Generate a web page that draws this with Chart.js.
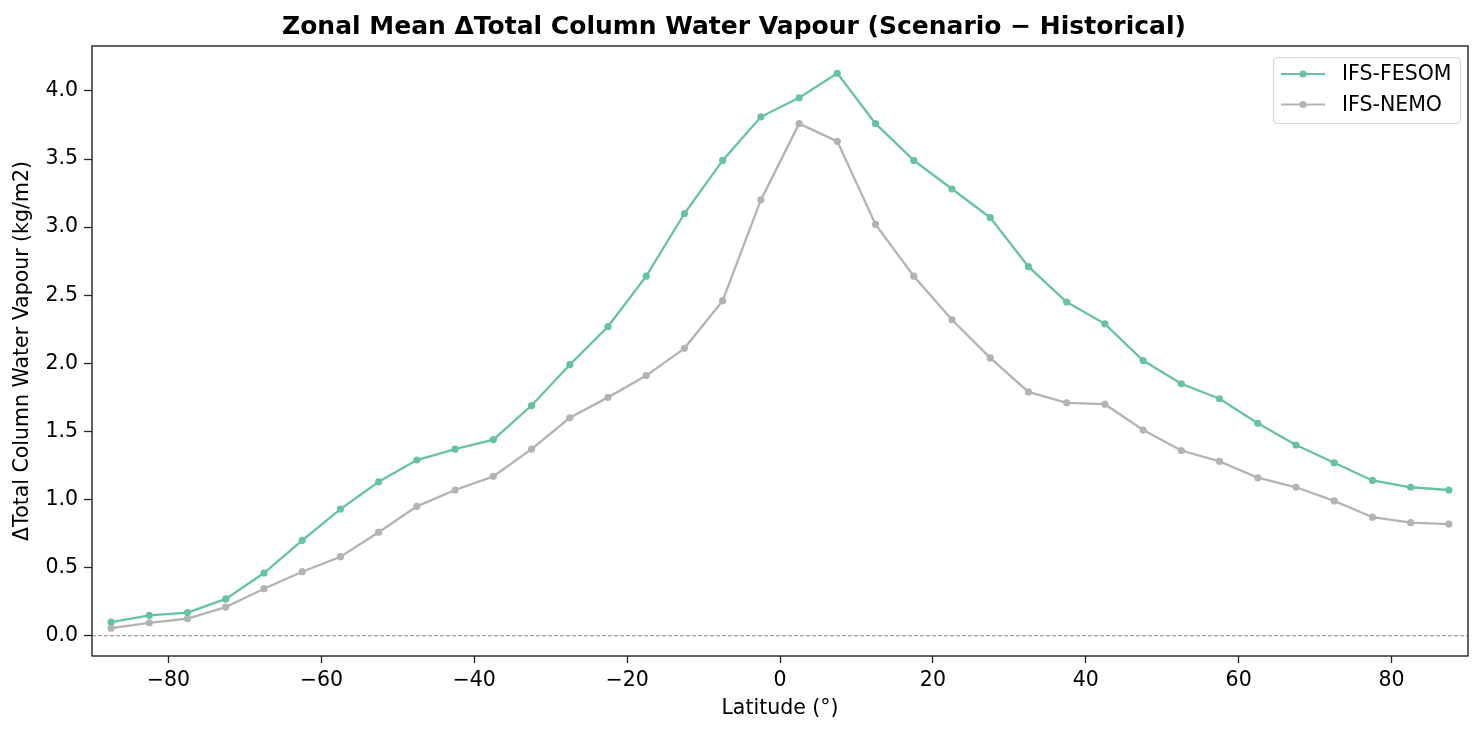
<!DOCTYPE html>
<html>
<head>
<meta charset="utf-8">
<script src="https://cdn.jsdelivr.net/npm/chart.js@4/dist/chart.umd.min.js"></script>
<style>
  html, body { margin: 0; padding: 0; background: #fff; }
  #wrap { width: 1483px; height: 734px; }
</style>
</head>
<body>
<div id="wrap"><canvas id="c"></canvas></div>
<script>
// zonal bands, 5 degree bins
const latitudes = [-87.5, -82.5, -77.5, -72.5, -67.5, -62.5, -57.5, -52.5, -47.5, -42.5,
    -37.5, -32.5, -27.5, -22.5, -17.5, -12.5, -7.5, -2.5, 2.5, 7.5, 12.5, 17.5, 22.5,
    27.5, 32.5, 37.5, 42.5, 47.5, 52.5, 57.5, 62.5, 67.5, 72.5, 77.5, 82.5, 87.5];

const fesom = [0.10, 0.15, 0.17, 0.27, 0.46, 0.70, 0.93, 1.13, 1.29, 1.37,
    1.44, 1.69, 1.99, 2.27, 2.64, 3.10, 3.49, 3.81, 3.95, 4.13, 3.76, 3.49, 3.28,
    3.07, 2.71, 2.45, 2.29, 2.02, 1.85, 1.74, 1.56, 1.40, 1.27, 1.14, 1.09, 1.07];

const nemo = [0.055, 0.095, 0.125, 0.21, 0.345, 0.47, 0.58, 0.76, 0.95, 1.07,
    1.17, 1.37, 1.60, 1.75, 1.91, 2.11, 2.46, 3.20, 3.76, 3.63, 3.02, 2.64, 2.32,
    2.04, 1.79, 1.71, 1.70, 1.51, 1.36, 1.28, 1.16, 1.09, 0.99, 0.87, 0.83, 0.82];

const xTicks = [-80, -60, -40, -20, 0, 20, 40, 60, 80];
const yTicks = [0, 0.5, 1.0, 1.5, 2.0, 2.5, 3.0, 3.5, 4.0];

const seriesNames = ['IFS-FESOM', 'IFS-NEMO'];
const seriesColors = ['#66c2a5', '#b3b3b3'];

const FONT = 'DejaVu Sans';
const FS = 20.5;
const TXT = '#000';

function toPoints(vals) {
    return latitudes.map((lat, i) => ({ x: lat, y: vals[i] }));
}

// frame + legend box, matplotlib style
const framePlugin = {
    id: 'frame',
    afterDraw(chart) {
        const { ctx, chartArea: a } = chart;
        ctx.save();
        ctx.strokeStyle = '#222';
        ctx.lineWidth = 1.4;
        ctx.strokeRect(a.left, a.top, a.right - a.left, a.bottom - a.top);

        // legend, upper right
        const lx = 1273, ly = 57, w = 187, h = 66;
        ctx.fillStyle = 'rgba(255,255,255,0.8)';
        ctx.strokeStyle = '#d6d6d6';
        ctx.lineWidth = 1.2;
        ctx.beginPath();
        ctx.roundRect(lx + 0.5, ly + 0.5, w, h, 4);
        ctx.fill();
        ctx.stroke();
        ctx.font = FS + 'px ' + FONT;
        ctx.textBaseline = 'middle';
        seriesNames.forEach((name, i) => {
            const yy = ly + 17 + i * 30.5;
            ctx.strokeStyle = seriesColors[i];
            ctx.lineWidth = 2.2;
            ctx.beginPath();
            ctx.moveTo(lx + 8, yy);
            ctx.lineTo(lx + 52, yy);
            ctx.stroke();
            ctx.fillStyle = seriesColors[i];
            ctx.beginPath();
            ctx.arc(lx + 30, yy, 3.6, 0, Math.PI * 2);
            ctx.fill();
            ctx.fillStyle = TXT;
            ctx.fillText(name, lx + 69, yy + 1);
        });
        ctx.restore();
    }
};

new Chart(document.getElementById('c'), {
    type: 'line',
    data: {
        datasets: [
            {
                label: 'zero',
                data: [{ x: -90, y: 0 }, { x: 90, y: 0 }],
                borderColor: '#808080',
                borderWidth: 0.9,
                borderDash: [4, 2],
                pointRadius: 0,
                order: 3
            },
            {
                label: seriesNames[0],
                data: toPoints(fesom),
                borderColor: seriesColors[0],
                backgroundColor: seriesColors[0],
                borderWidth: 2.3,
                pointRadius: 3.6,
                pointBorderWidth: 0,
                order: 1
            },
            {
                label: seriesNames[1],
                data: toPoints(nemo),
                borderColor: seriesColors[1],
                backgroundColor: seriesColors[1],
                borderWidth: 2.3,
                pointRadius: 3.6,
                pointBorderWidth: 0,
                order: 2
            }
        ]
    },
    options: {
        responsive: true,
        maintainAspectRatio: false,
        animation: false,
        layout: { padding: { left: 0, right: 15, top: 0, bottom: 0 } },
        plugins: {
            legend: { display: false },
            tooltip: { enabled: false },
            title: {
                display: true,
                text: 'Zonal Mean ΔTotal Column Water Vapour (Scenario − Historical)',
                color: TXT,
                font: { family: FONT, size: 25, weight: 'bold', lineHeight: 1.2 },
                padding: { top: 12, bottom: 4 }
            }
        },
        scales: {
            x: {
                type: 'linear',
                min: -90,
                max: 90,
                afterBuildTicks: s => { s.ticks = xTicks.map(v => ({ value: v })); },
                afterFit: s => { s.height = 78; },
                ticks: {
                    color: TXT,
                    font: { family: FONT, size: FS },
                    padding: 5,
                    maxRotation: 0,
                    callback: v => String(v).replace('-', '−')
                },
                grid: { drawOnChartArea: false, tickLength: 7, tickColor: '#222', tickWidth: 1.3 },
                border: { display: false },
                title: {
                    display: true,
                    text: 'Latitude (°)',
                    color: TXT,
                    font: { family: FONT, size: FS, lineHeight: 1.2 },
                    padding: { top: 0, bottom: 13 }
                }
            },
            y: {
                type: 'linear',
                min: -0.149,
                max: 4.33,
                afterBuildTicks: s => { s.ticks = yTicks.map(v => ({ value: v })); },
                afterFit: s => { s.width = 92; },
                ticks: {
                    color: TXT,
                    font: { family: FONT, size: FS },
                    padding: 6,
                    callback: v => v.toFixed(1)
                },
                grid: { drawOnChartArea: false, tickLength: 8, tickColor: '#222', tickWidth: 1.3 },
                border: { display: false },
                title: {
                    display: true,
                    text: 'ΔTotal Column Water Vapour (kg/m2)',
                    color: TXT,
                    font: { family: FONT, size: FS, lineHeight: 1.2 },
                    padding: { top: 10, bottom: 0 }
                }
            }
        }
    },
    plugins: [framePlugin]
});
</script>
</body>
</html>
